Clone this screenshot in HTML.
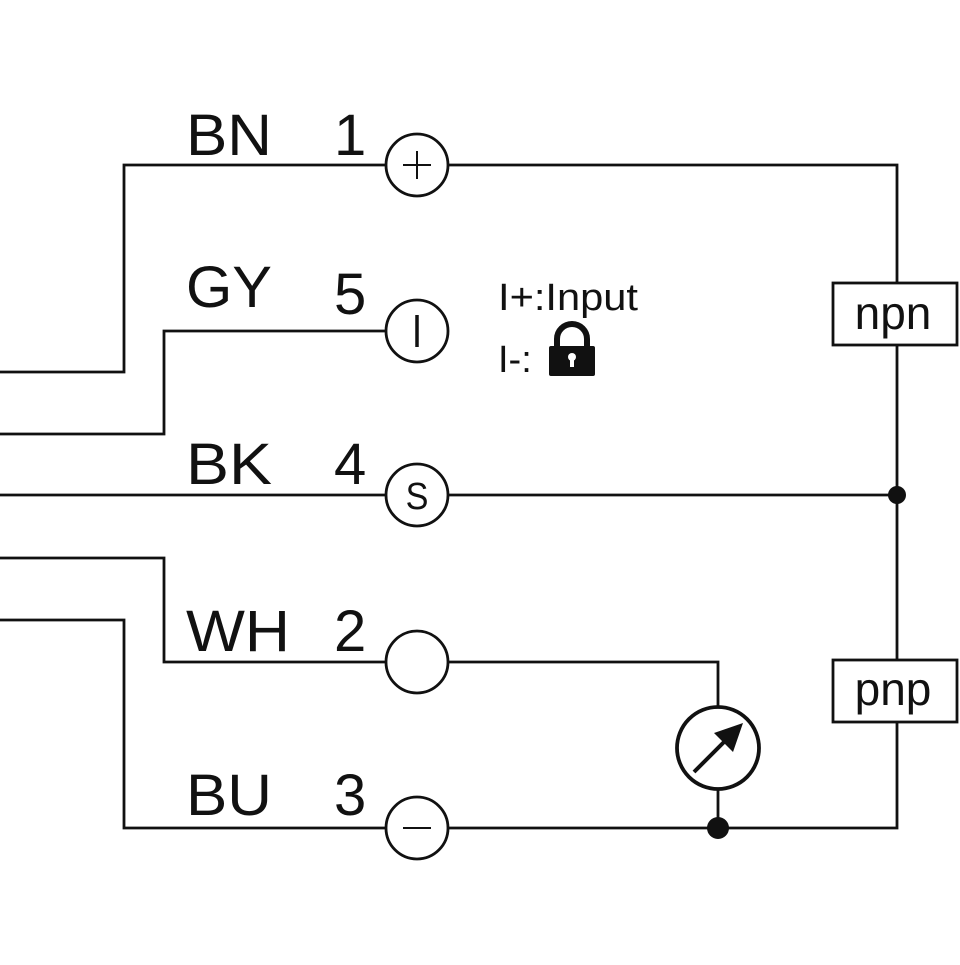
<!DOCTYPE html>
<html><head><style>html,body{margin:0;padding:0;background:#fff}</style></head><body>
<svg width="960" height="960" viewBox="0 0 960 960" xmlns="http://www.w3.org/2000/svg" font-family="Liberation Sans, sans-serif">
<g fill="none" stroke="#111" stroke-width="2.8">
<polyline points="0,372 124,372 124,165 386,165"/>
<polyline points="448,165 897,165 897,283"/>
<polyline points="0,434 164,434 164,331 386,331"/>
<polyline points="0,495 386,495"/>
<polyline points="448,495 897,495"/>
<polyline points="897,345 897,660"/>
<polyline points="897,722 897,828 448,828"/>
<polyline points="0,558 164,558 164,662 386,662"/>
<polyline points="448,662 718,662 718,706"/>
<polyline points="718,789 718,828"/>
<polyline points="0,620 124,620 124,828 386,828"/>
<circle cx="417" cy="165" r="31"/>
<circle cx="417" cy="331" r="31"/>
<circle cx="417" cy="495" r="31"/>
<circle cx="417" cy="662" r="31"/>
<circle cx="417" cy="828" r="31"/>
<circle cx="718" cy="748" r="41" stroke-width="3.8"/>
<rect x="833" y="283" width="124" height="62"/>
<rect x="833" y="660" width="124" height="62"/>
<line x1="403" y1="165" x2="431" y2="165" stroke-width="2"/>
<line x1="417" y1="151" x2="417" y2="179" stroke-width="2"/>
<line x1="417" y1="315" x2="417" y2="347" stroke-width="3.5"/>
<line x1="403" y1="828" x2="431" y2="828" stroke-width="2"/>
<line x1="694" y1="772" x2="730" y2="736" stroke-width="4"/>
</g>
<polygon points="743,723 733,752 714,733" fill="#111"/>
<circle cx="897" cy="495" r="9" fill="#111"/>
<circle cx="718" cy="828" r="11" fill="#111"/>
<text x="417" y="509" font-size="38" text-anchor="middle" fill="#111" transform="translate(417 0) scale(0.9 1) translate(-417 0)">S</text>
<g font-size="58" fill="#111">
<text x="186" y="155" textLength="86" lengthAdjust="spacingAndGlyphs">BN</text><text x="334" y="155">1</text>
<text x="186" y="307" textLength="86" lengthAdjust="spacingAndGlyphs">GY</text><text x="334" y="314">5</text>
<text x="186" y="484" textLength="86" lengthAdjust="spacingAndGlyphs">BK</text><text x="334" y="484">4</text>
<text x="186" y="651" textLength="104" lengthAdjust="spacingAndGlyphs">WH</text><text x="334" y="651">2</text>
<text x="186" y="815" textLength="86" lengthAdjust="spacingAndGlyphs">BU</text><text x="334" y="815">3</text>
</g>
<g font-size="46" fill="#111" text-anchor="middle">
<text x="893" y="329">npn</text>
<text x="893" y="705">pnp</text>
</g>
<g font-size="38" fill="#111">
<text x="498" y="310" textLength="140" lengthAdjust="spacingAndGlyphs">I+:Input</text>
<text x="498" y="372">I-:</text>
</g>
<path d="M557,347 v-8 a15,15 0 0 1 30,0 v8" fill="none" stroke="#111" stroke-width="6"/>
<rect x="549" y="346" width="46" height="30" rx="2" fill="#111"/>
<circle cx="572" cy="357" r="4" fill="#fff"/>
<rect x="570" y="358" width="4" height="9" fill="#fff"/>
</svg>
</body></html>
